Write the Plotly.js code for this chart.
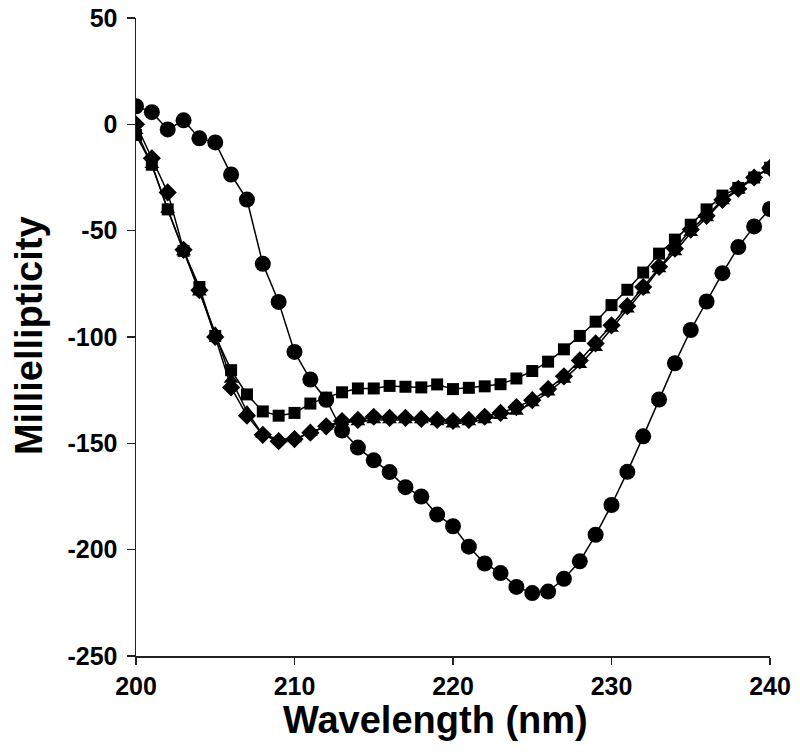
<!DOCTYPE html>
<html>
<head>
<meta charset="utf-8">
<script src="https://cdn.plot.ly/plotly-3.0.1.min.js"></script>
<style>
html,body{margin:0;padding:0;background:#fff;}
#chart{width:800px;height:754px;}
</style>
</head>
<body>
<div id="chart"></div>
<script>
const wavelength = [200,201,202,203,204,205,206,207,208,209,210,211,212,213,214,215,216,217,218,219,220,221,222,223,224,225,226,227,228,229,230,231,232,233,234,235,236,237,238,239,240];

const circles = [8.5,5.7,-2.4,1.9,-6.6,-8.5,-23.6,-35.4,-65.6,-83.5,-107,-120,-129.5,-144,-152,-158,-163.5,-170.6,-175,-183.5,-189,-198.6,-206.5,-211,-217.5,-220.4,-219.7,-213.7,-205.5,-193,-179,-163.4,-146.7,-129.4,-112.4,-96.7,-83.3,-70,-57.7,-48,-39.8];

const squares = [-5,-19,-40,-59.5,-76.5,-99.5,-115.6,-127,-135,-137,-135.7,-131.3,-128.5,-126,-124.2,-124.2,-123,-123.4,-123.7,-122.3,-124.5,-123.9,-123.2,-122.2,-119.5,-116,-111.6,-105.8,-99.5,-92.8,-85,-77.8,-69.7,-60.8,-54.2,-47.2,-40,-33.5,-29.9,-25,-20.4];

const diamonds = [0,-16,-32,-59,-78,-100,-123.7,-137,-146,-149,-148,-145,-142,-139.5,-139,-137.5,-138,-138,-138.5,-139,-139.5,-139,-137.5,-135.7,-133,-129.7,-124.5,-118.5,-111,-103,-94.5,-85.5,-76.5,-67,-58.5,-49.5,-43,-35.5,-30.3,-25,-20.5];

const triangles = [-3,-19,-40,-60,-79,-98,-120,-135,-146,-148,-148,-145,-142,-140,-140,-139,-139,-139,-139,-140,-141,-140,-139,-137,-135,-131,-126,-120,-113,-105,-96,-87,-78,-68,-60,-51,-44,-36,-31,-25,-20];

const yTicks = [-250,-200,-150,-100,-50,0,50];
const xTicks = [200,210,220,230,240];
const xTitle = 'Wavelength (nm)';
const yTitle = 'Milliellipticity';

const FONT = 'Liberation Sans, Arial, Helvetica, sans-serif';

function series(y, symbol, size) {
  return {
    x: wavelength, y: y, type: 'scatter', mode: 'lines+markers',
    line: {color: '#000', width: 1.5},
    marker: {symbol: symbol, size: size, color: '#000', line: {width: 0}},
    showlegend: false, hoverinfo: 'x+y'
  };
}

const data = [
  series(squares, 'square', 12),
  series(diamonds, 'diamond', 14),
  series(triangles, 'triangle-up', 13),
  series(circles, 'circle', 16)
];

const layout = {
  width: 800, height: 754,
  margin: {l: 136, r: 30, t: 18, b: 98},
  paper_bgcolor: '#fff', plot_bgcolor: '#fff',
  font: {family: FONT, color: '#000'},
  xaxis: {
    range: [200, 240], tickvals: xTicks, ticktext: xTicks.map(String),
    showgrid: false, zeroline: false,
    showline: true, linecolor: '#222', linewidth: 1.5,
    ticks: 'outside', ticklen: 7, tickwidth: 1.5, tickcolor: '#222',
    tickfont: {family: FONT, size: 25, color: '#000', weight: 'bold'},
    automargin: false
  },
  yaxis: {
    range: [-250, 50], tickvals: yTicks, ticktext: yTicks.map(String),
    showgrid: false, zeroline: false,
    showline: true, linecolor: '#222', linewidth: 1.5,
    ticks: 'outside', ticklen: 8, tickwidth: 1.5, tickcolor: '#222',
    tickfont: {family: FONT, size: 25, color: '#000', weight: 'bold'},
    ticklabelstandoff: 4,
    automargin: false
  },
  annotations: [
    {text: '<b>' + xTitle + '</b>', xref: 'paper', yref: 'paper', x: 0.473, y: -0.1003,
     xanchor: 'center', yanchor: 'middle', showarrow: false, borderpad: 0,
     font: {family: FONT, size: 38, color: '#000'}},
    {text: '<b>' + yTitle + '</b>', xref: 'paper', yref: 'paper', x: -0.1688, y: 0.503,
     xanchor: 'center', yanchor: 'middle', textangle: -90, showarrow: false, borderpad: 0,
     font: {family: FONT, size: 38, color: '#000'}}
  ]
};

Plotly.newPlot('chart', data, layout, {displayModeBar: false, staticPlot: true});
</script>
</body>
</html>
